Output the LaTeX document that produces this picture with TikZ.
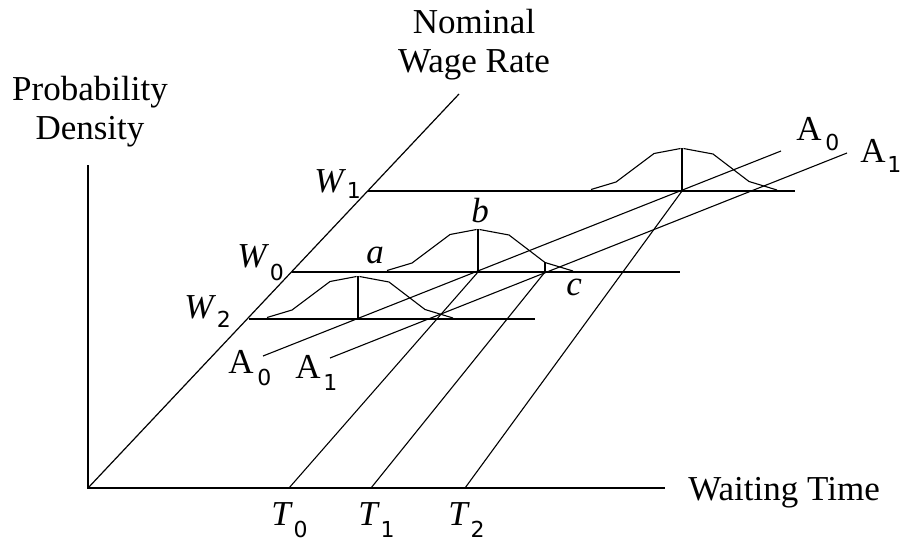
\documentclass[tikz,border=0pt]{standalone}
\usepackage{fontspec}
\setmainfont{Liberation Serif}
\newfontfamily\digitfont{DejaVu Sans}
\usetikzlibrary{positioning}
\newcommand{\lowdigit}[2][6pt]{\kern0.3pt\raisebox{-#1}{\fontsize{11}{13}\selectfont\digitfont #2}}

\begin{document}
\begin{tikzpicture}[x=0.5pt, y=-0.5pt,
    axisline/.style={line width=0.6pt},
    guide/.style={line width=0.55pt},
    lbl/.style={anchor=base west, inner sep=0pt, font=\fontsize{17.5}{19}\selectfont},
    axistitle/.style={align=center, inner sep=0pt, anchor=north, font=\fontsize{17.5}{19.5}\selectfont},
]
    \useasboundingbox (0,0) rectangle (903,542);

    % axes
    \coordinate (origin) at (88,488);
    \coordinate (ytop) at (88,165);
    \coordinate (xend) at (665,488);
    \coordinate (wtop) at (459,94);
    \draw[axisline] (ytop) -- (origin) -- (xend);
    \draw[axisline] (origin) -- (wtop);

    % wage levels
    \coordinate (w1start) at (368,191);
    \coordinate (w1end) at (795,191);
    \coordinate (w0start) at (292,272);
    \coordinate (w0end) at (680,272);
    \coordinate (w2start) at (249,319);
    \coordinate (w2end) at (535,319);
    \draw[guide] (w1start) -- (w1end);
    \draw[guide] (w0start) -- (w0end);
    \draw[guide] (w2start) -- (w2end);

    % feet of the densities
    \coordinate (foot2) at (358,319);
    \coordinate (foot0) at (478,272);
    \coordinate (foot1) at (682,191);
    \coordinate (footc) at (545,272);

    % acceptance lines
    \coordinate (a0low) at (263,356);
    \coordinate (a0high) at (781,151);
    \coordinate (a1low) at (330,358);
    \coordinate (a1high) at (847,153);
    \draw[guide] (a0low) -- (a0high);
    \draw[guide] (a1low) -- (a1high);

    % waiting time lines
    \coordinate (t0) at (289,488);
    \coordinate (t1) at (371,488);
    \coordinate (t2) at (465,488);
    \draw[guide] (t0) -- (foot0);
    \draw[guide] (t1) -- (footc);
    \draw[guide] (t2) -- (foot1);

    % densities
    \foreach \f in {foot2,foot0,foot1} {
        \draw[guide, shift={(\f)}] (-91,-1.5) -- (-66,-9) -- (-28,-37.5) -- (-1.5,-42.5);
        \draw[guide, shift={(\f)}] (1.5,-42.5) -- (31,-37) -- (67,-9.5) -- (95,-1);
        \draw[guide] (\f) -- ++(0,-43);
    }
    \draw[guide] (footc) -- ++(0,-10);

    % titles
    \node[axistitle] (ytitle) at (90,76) {Probability\\Density};
    \node[axistitle] (wtitle) at (474,9) {Nominal\\Wage Rate};
    \node[lbl] (xtitle) at (688,500) {Waiting Time};

    % labels
    \node[lbl] (w1lbl) at (314,192) {\textit{W}\lowdigit[3pt]{1}};
    \node[lbl] (w0lbl) at (237,267) {\textit{W}\lowdigit[6.5pt]{0}};
    \node[lbl] (w2lbl) at (184,318) {\textit{W}\lowdigit[4.5pt]{2}};
    \node[lbl] (t0lbl) at (271,525) {\textit{T}\lowdigit{0}};
    \node[lbl] (t1lbl) at (358,525) {\textit{T}\lowdigit{1}};
    \node[lbl] (t2lbl) at (448,525) {\textit{T}\lowdigit{2}};
    \node[lbl] (a0low lbl) at (228,373) {A\kern1.5pt\lowdigit{0}};
    \node[lbl] (a1low lbl) at (295,378) {A\kern1pt\lowdigit{1}};
    \node[lbl] (a0high lbl) at (796,140) {A\kern1.5pt\lowdigit[5pt]{0}};
    \node[lbl] (a1high lbl) at (860,162) {A\kern0.5pt\lowdigit[5pt]{1}};
    \node[lbl] (albl) at (366,263) {\textit{a}};
    \node[lbl] (blbl) at (471,222) {\textit{b}};
    \node[lbl] (clbl) at (566,295) {\textit{c}};
\end{tikzpicture}
\end{document}
